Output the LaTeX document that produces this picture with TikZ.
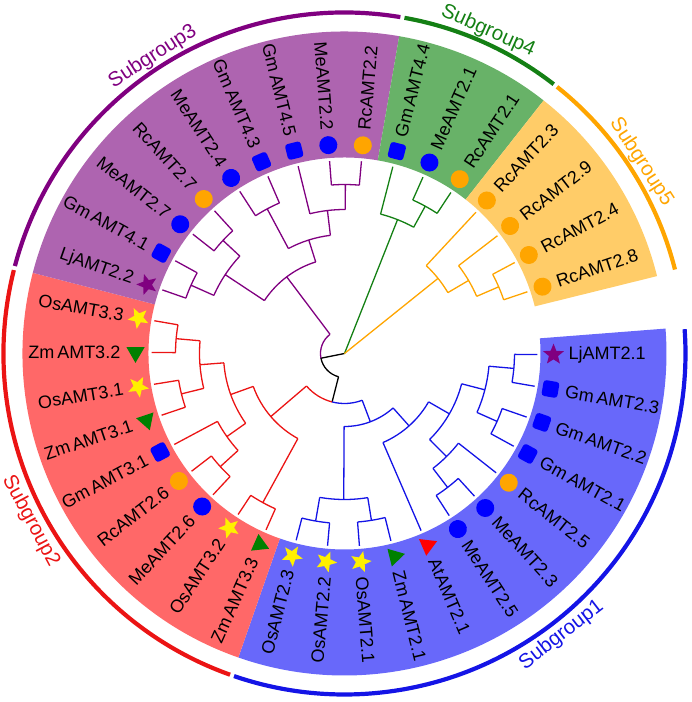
\documentclass[tikz,border=0pt]{standalone}
\usepackage{fontspec}
\setmainfont{Liberation Sans}
\usetikzlibrary{shapes.geometric}
\definecolor{tBlue}{RGB}{20,20,230}
\definecolor{tRed}{RGB}{235,20,20}
\definecolor{tPurple}{RGB}{128,0,128}
\definecolor{tGreen}{RGB}{20,128,20}
\definecolor{tOrange}{RGB}{255,165,0}
\definecolor{bandBlue}{RGB}{104,104,250}
\definecolor{bandRed}{RGB}{255,104,104}
\definecolor{bandPurple}{RGB}{174,100,176}
\definecolor{bandGreen}{RGB}{104,178,104}
\definecolor{bandOrange}{RGB}{255,204,104}
\definecolor{mBlue}{RGB}{0,0,255}
\definecolor{mOrange}{RGB}{255,165,0}
\definecolor{mYellow}{RGB}{255,240,0}
\definecolor{mGreen}{RGB}{0,128,0}
\definecolor{mRed}{RGB}{255,0,0}
\definecolor{mPurple}{RGB}{128,0,128}
% stem of a clade and its arc: colour, angle, r0, r, arc from, arc to
\newcommand{\clade}[6]{
	\draw[br,#1] (#2:#3) -- (#2:#4) (#5:#4) arc[start angle=#5, end angle=#6, radius=#4pt];
}
% leaf stubs out to the tips
\newcommand{\tips}[3]{
	\foreach \k in {#3} {\draw[br,#1] ({-0.3-9.4737*\k}:#2) -- ({-0.3-9.4737*\k}:193);}
}
\newcommand{\band}[3]{
	\fill[#1] (#2:196) arc[start angle=#2, end angle=#3, radius=196pt] -- (#3:322) arc[start angle=#3, end angle=#2, radius=322pt] -- cycle;
}
\newcommand{\grparc}[3]{
	\draw[grpring,#1] ({#2-0.35}:341) arc[start angle=#2-0.35, end angle=#3+0.35, radius=341pt];
}

\begin{document}
\begin{tikzpicture}[x=1pt,y=1pt,
	br/.style={line width=1.3pt},
	grpring/.style={line width=4.2pt},
	leaflbl/.style={font=\fontsize{18}{20}\selectfont, inner sep=0pt},
	grplbl/.style={font=\fontsize{20.5}{23}\selectfont, inner sep=0pt, anchor=base},
	symcirc/.style={circle, minimum size=18pt, inner sep=0pt},
	symsq/.style={rectangle, rounded corners=3pt, minimum size=16pt, inner sep=0pt},
	symstar/.style={star, star points=5, star point ratio=2.3, minimum size=22pt, inner sep=0pt},
	symtri/.style={regular polygon, regular polygon sides=3, minimum size=21pt, inner sep=0pt}]
\useasboundingbox (-344.5,-348.5) rectangle (347.5,353.5);
%
	\band{bandBlue}{4.44}{-109.25}
	\band{bandRed}{-109.25}{-194.51}
	\band{bandPurple}{-194.51}{-279.78}
	\band{bandGreen}{-279.78}{-308.2}
	\band{bandOrange}{-308.2}{-346.09}
%
	\draw[br,black] (0,0) -- (-168.68:24) arc[start angle=-168.68, end angle=-104.36, radius=24pt];
	\draw[br,tPurple] (-168.68:24) arc[start angle=-168.68, end angle=-233.0, radius=24pt];
	\draw[br,black] (-104.36:24) -- (-104.36:50);
	\draw[br,tRed] (-104.36:50) arc[start angle=-104.36, end angle=-139.445, radius=50pt];
	\draw[br,tBlue] (-104.36:50) arc[start angle=-104.36, end angle=-69.28, radius=50pt];
%
	\clade{tBlue}{-69.28}{50}{73}{-90.30}{-48.26}
	\clade{tBlue}{-90.30}{73}{146}{-99.775}{-80.825}
	\clade{tBlue}{-99.775}{146}{170}{-104.51}{-95.04}
	\clade{tBlue}{-80.825}{146}{169}{-85.56}{-76.09}
	\clade{tBlue}{-48.26}{73}{97}{-66.62}{-29.905}
	\clade{tBlue}{-29.905}{97}{121}{-45.30}{-14.51}
	\clade{tBlue}{-45.30}{121}{145}{-52.405}{-38.19}
	\clade{tBlue}{-52.405}{145}{169}{-57.14}{-47.67}
	\clade{tBlue}{-14.51}{121}{145}{-23.985}{-5.035}
	\clade{tBlue}{-23.985}{145}{167}{-28.72}{-19.25}
	\clade{tBlue}{-5.035}{145}{170}{-9.77}{-0.30}
	\tips{tBlue}{170}{0,1,10,11}
	\tips{tBlue}{167}{2,3}
	\tips{tBlue}{145}{4}
	\tips{tBlue}{169}{5,6,8,9}
	\tips{tBlue}{97}{7}
%
	\clade{tRed}{-139.445}{50}{97}{-160.17}{-118.72}
	\clade{tRed}{-118.72}{97}{170}{-123.46}{-113.98}
	\clade{tRed}{-160.17}{97}{121}{-175.56}{-144.775}
	\clade{tRed}{-144.775}{121}{144}{-151.88}{-137.67}
	\clade{tRed}{-137.67}{144}{168}{-142.41}{-132.93}
	\clade{tRed}{-175.56}{121}{145}{-185.035}{-166.09}
	\clade{tRed}{-185.035}{145}{169}{-189.77}{-180.30}
	\clade{tRed}{-166.09}{145}{168}{-170.83}{-161.35}
	\tips{tRed}{170}{12,13}
	\tips{tRed}{168}{14,15,17,18}
	\tips{tRed}{144}{16}
	\tips{tRed}{169}{19,20}
%
	\clade{tPurple}{-233.0}{24}{96}{-213.46}{-252.54}
	\clade{tPurple}{-213.46}{96}{143}{-203.985}{-222.935}
	\clade{tPurple}{-203.985}{143}{168}{-199.25}{-208.72}
	\clade{tPurple}{-222.935}{143}{166}{-218.20}{-227.67}
	\clade{tPurple}{-252.54}{96}{119}{-241.88}{-263.195}
	\clade{tPurple}{-241.88}{119}{164}{-237.14}{-246.62}
	\clade{tPurple}{-263.195}{119}{144}{-256.09}{-270.30}
	\clade{tPurple}{-270.30}{144}{169}{-265.56}{-275.04}
	\tips{tPurple}{168}{21,22}
	\tips{tPurple}{166}{23,24}
	\tips{tPurple}{164}{25,26}
	\tips{tPurple}{144}{27}
	\tips{tPurple}{169}{28,29}
%
	\clade{tGreen}{-291.615}{0}{144}{-284.51}{-298.72}
	\clade{tGreen}{-298.72}{144}{168}{-293.98}{-303.46}
	\tips{tGreen}{144}{30}
	\tips{tGreen}{168}{31,32}
%
	\clade{tOrange}{-321.22}{0}{120}{-312.93}{-329.51}
	\clade{tOrange}{-329.51}{120}{144}{-322.41}{-336.615}
	\clade{tOrange}{-336.615}{144}{168}{-331.88}{-341.35}
	\tips{tOrange}{120}{33}
	\tips{tOrange}{144}{34}
	\tips{tOrange}{168}{35,36}
%
	\foreach \k/\lbl/\shp/\col in {0/LjAMT2.1/symstar/mPurple, 1/{Gm\,AMT2.3}/symsq/mBlue,
		2/{Gm\,AMT2.2}/symsq/mBlue, 3/{Gm\,AMT2.1}/symsq/mBlue, 4/RcAMT2.5/symcirc/mOrange,
		5/MeAMT2.3/symcirc/mBlue, 6/MeAMT2.5/symcirc/mBlue, 7/AtAMT2.1/symtri/mRed,
		8/{Zm\,AMT2.1}/symtri/mGreen, 9/OsAMT2.1/symstar/mYellow, 10/OsAMT2.2/symstar/mYellow,
		11/OsAMT2.3/symstar/mYellow, 12/{Zm\,AMT3.3}/symtri/mGreen, 13/OsAMT3.2/symstar/mYellow,
		14/MeAMT2.6/symcirc/mBlue, 15/RcAMT2.6/symcirc/mOrange, 16/{Gm\,AMT3.1}/symsq/mBlue,
		17/{Zm\,AMT3.1}/symtri/mGreen, 18/OsAMT3.1/symstar/mYellow, 19/{Zm\,AMT3.2}/symtri/mGreen,
		20/OsAMT3.3/symstar/mYellow, 21/LjAMT2.2/symstar/mPurple, 22/{Gm\,AMT4.1}/symsq/mBlue,
		23/MeAMT2.7/symcirc/mBlue, 24/RcAMT2.7/symcirc/mOrange, 25/MeAMT2.4/symcirc/mBlue,
		26/{Gm\,AMT4.3}/symsq/mBlue, 27/{Gm\,AMT4.5}/symsq/mBlue, 28/MeAMT2.2/symcirc/mBlue,
		29/RcAMT2.2/symcirc/mOrange, 30/{Gm\,AMT4.4}/symsq/mBlue, 31/MeAMT2.1/symcirc/mBlue,
		32/RcAMT2.1/symcirc/mOrange, 33/RcAMT2.3/symcirc/mOrange, 34/RcAMT2.9/symcirc/mOrange,
		35/RcAMT2.4/symcirc/mOrange, 36/RcAMT2.8/symcirc/mOrange} {
		\pgfmathsetmacro\ang{-0.3-9.4737*\k}
		\node[style=\shp, fill=\col, rotate=\ang] (s\k) at (\ang:209) {};
		\pgfmathtruncatemacro\flip{and(\ang < -90, \ang > -270)}
		\ifnum\flip=1
			\node[leaflbl, anchor=east, rotate=\ang+180] (l\k) at (\ang:224) {\lbl};
		\else
			\node[leaflbl, anchor=west, rotate=\ang] (l\k) at (\ang:224) {\lbl};
		\fi
	}
%
	\grparc{tBlue}{4.44}{-109.25}
	\grparc{tRed}{-109.25}{-194.51}
	\grparc{tPurple}{-194.51}{-279.78}
	\grparc{tGreen}{-279.78}{-308.2}
	\grparc{tOrange}{-308.2}{-346.09}
	\node[grplbl, text=tBlue, rotate=-52.4+90] (g1) at (-52.4:361) {Subgroup1};
	\node[grplbl, text=tRed, rotate=-151.88+90] (g2) at (-151.88:361) {Subgroup2};
	\node[grplbl, text=tPurple, rotate=122.86-90] (g3) at (122.86:348) {Subgroup3};
	\node[grplbl, text=tGreen, rotate=66-90] (g4) at (66:348) {Subgroup4};
	\node[grplbl, text=tOrange, rotate=32.86-90] (g5) at (32.86:348) {Subgroup5};
\end{tikzpicture}
\end{document}
